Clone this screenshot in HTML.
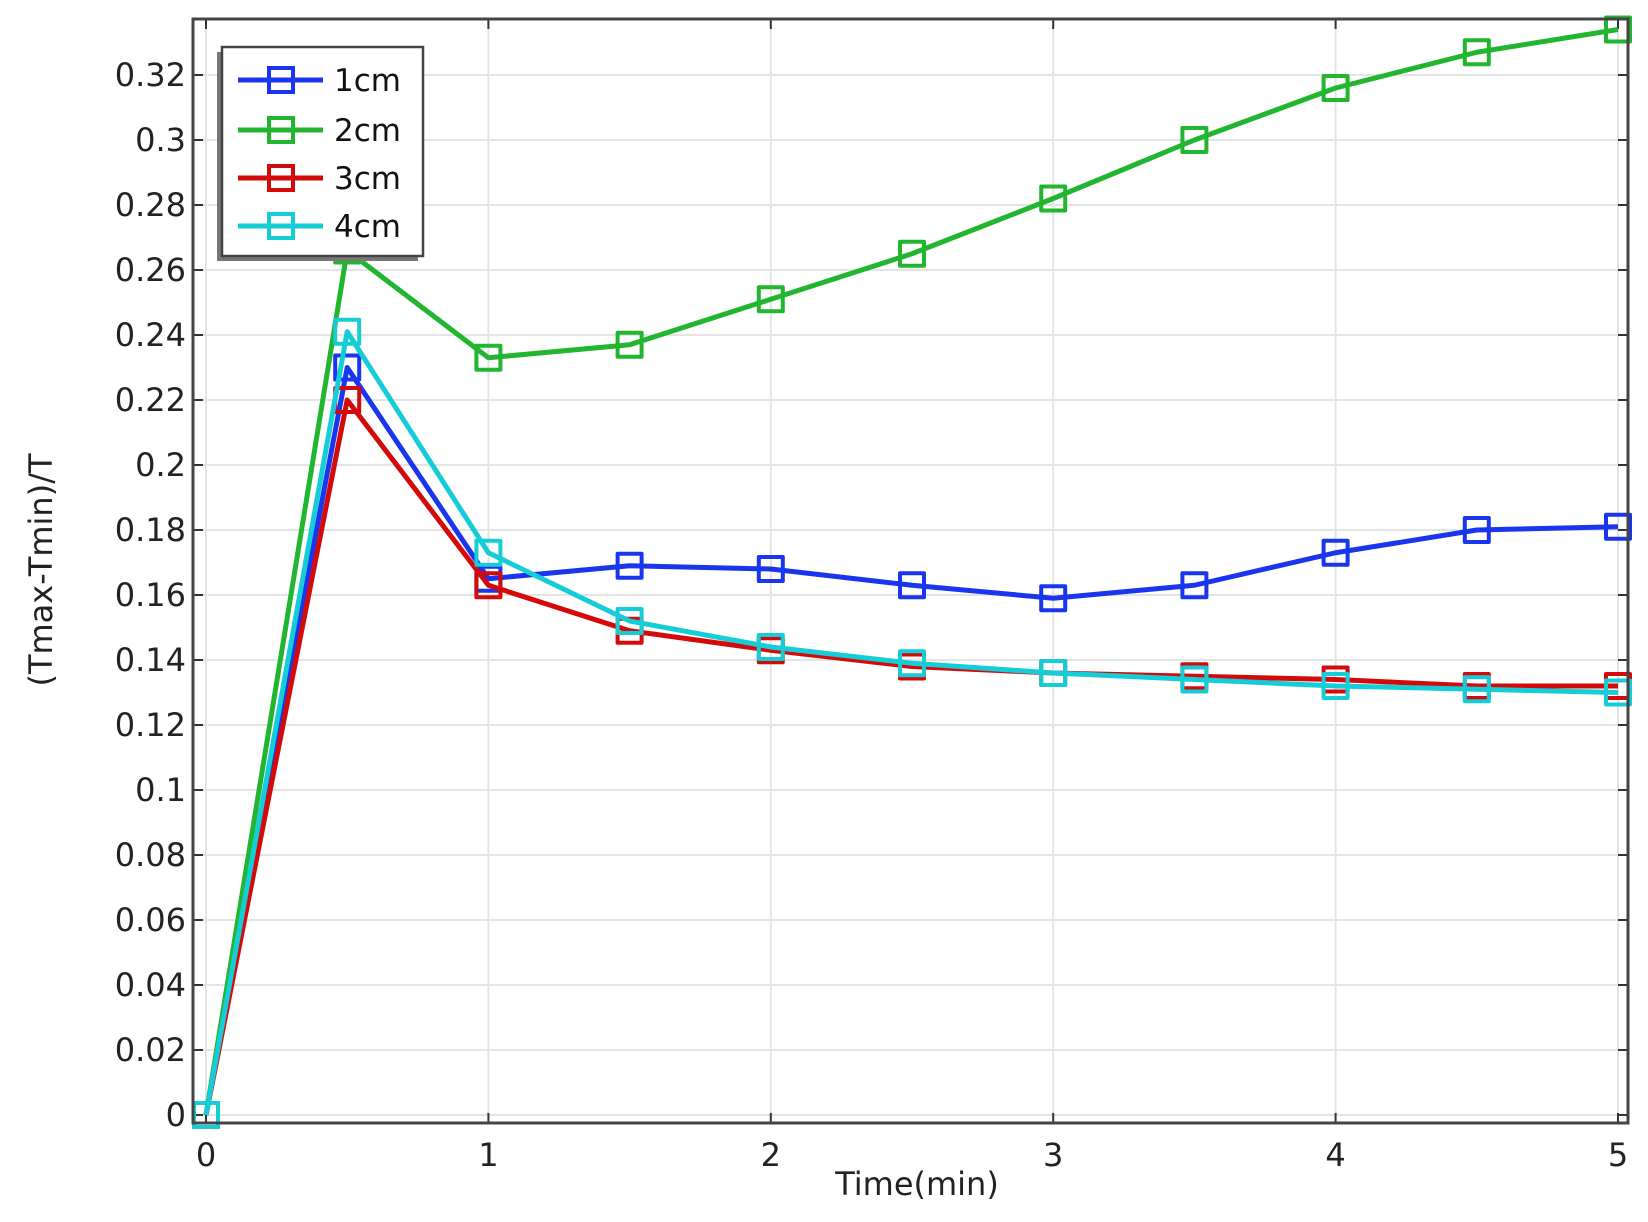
<!DOCTYPE html>
<html><head><meta charset="utf-8"><style>
html,body{margin:0;padding:0;background:#fff;}
svg{display:block;font-family:"DejaVu Sans","Liberation Sans",sans-serif;}
</style></head><body>
<svg id="c" width="1648" height="1222" viewBox="0 0 1648 1222" xmlns="http://www.w3.org/2000/svg">
<g id="grid" stroke="#e4e4e4" stroke-width="2"></g>
<g id="ticks" stroke="#333" stroke-width="2"></g>
<g id="series" fill="none" stroke-width="5" stroke-linejoin="round"></g>
<rect x="193" y="19" width="1435" height="1104" fill="none" stroke="#444" stroke-width="3"/>
<g id="ylab" font-size="32" fill="#222" text-anchor="end"></g>
<g id="xlab" font-size="32" fill="#222" text-anchor="middle"></g>
<text x="917" y="1195" font-size="32" fill="#222" text-anchor="middle">Time(min)</text>
<text transform="translate(52,570) rotate(-90)" font-size="32" fill="#222" text-anchor="middle">(Tmax-Tmin)/T</text>
<rect x="217" y="52" width="201" height="209" fill="#777"/>
<rect x="222" y="47" width="201" height="209" fill="#fff" stroke="#444" stroke-width="2.5"/>
<g id="leg" font-size="31" fill="#111"></g>
</svg>
<script>
var X=function(v){return 206+v*282.4;}, Y=function(v){return 1115-v/0.02*65;};
var ns="http://www.w3.org/2000/svg";
function el(p,t,a,txt){var e=document.createElementNS(ns,t);for(var k in a)e.setAttribute(k,a[k]);if(txt!==undefined)e.textContent=txt;document.getElementById(p).appendChild(e);return e;}
for(var i=0;i<=16;i++){var y=Y(i*0.02);el('grid','line',{x1:193,x2:1628,y1:y,y2:y});el('ticks','line',{x1:193,x2:203,y1:y,y2:y});el('ticks','line',{x1:1618,x2:1628,y1:y,y2:y});
var s=(i==0)?"0":(Math.round(i*2)/100).toString();el('ylab','text',{x:186,y:y+11},s);}
for(var i=0;i<=5;i++){var x=X(i);el('grid','line',{x1:x,x2:x,y1:19,y2:1123});el('ticks','line',{x1:x,x2:x,y1:1113,y2:1123});el('ticks','line',{x1:x,x2:x,y1:19,y2:29});el('xlab','text',{x:x,y:1166},String(i));}
var S=[
["#22b530",[0,0.266,0.233,0.237,0.251,0.265,0.282,0.300,0.316,0.327,0.334]],
["#1a35ee",[0,0.230,0.165,0.169,0.168,0.163,0.159,0.163,0.173,0.180,0.181]],
["#d40a0a",[0,0.220,0.163,0.149,0.143,0.138,0.136,0.135,0.134,0.132,0.132]],
["#14cdd6",[0,0.241,0.173,0.152,0.144,0.139,0.136,0.134,0.132,0.131,0.130]]];
S.forEach(function(s){var pts=s[1].map(function(v,i){return X(i*0.5)+","+Y(v);}).join(" ");
el('series','polyline',{points:pts,stroke:s[0]});
s[1].forEach(function(v,i){el('series','rect',{x:X(i*0.5)-12,y:Y(v)-12,width:24,height:24,stroke:s[0],'stroke-width':4});});});
var L=[["#1a35ee","1cm",80],["#22b530","2cm",130],["#d40a0a","3cm",178],["#14cdd6","4cm",226]];
L.forEach(function(l){el('leg','line',{x1:238,x2:323,y1:l[2],y2:l[2],stroke:l[0],'stroke-width':5});
el('leg','rect',{x:269,y:l[2]-12,width:24,height:24,fill:'none',stroke:l[0],'stroke-width':4});
el('leg','text',{x:334,y:l[2]+11},l[1]);});
</script>
</body></html>
